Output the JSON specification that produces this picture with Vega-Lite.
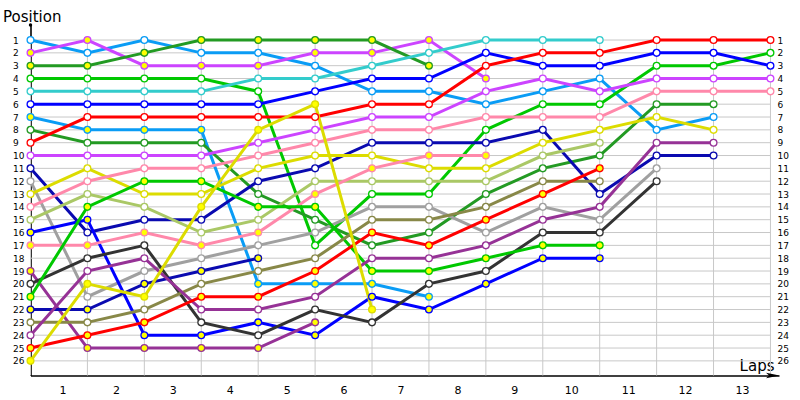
{
  "$schema": "https://vega.github.io/schema/vega-lite/v6.json",
  "width": 748.5,
  "height": 350.5,
  "autosize": "none",
  "padding": {"left": 30.5, "top": 25, "right": 21, "bottom": 24.5},
  "background": "white",
  "config": {
    "view": {"stroke": null},
    "font": "DejaVu Sans",
    "axis": {"labelFont": "DejaVu Sans", "titleFont": "DejaVu Sans", "labelColor": "black", "titleColor": "black", "titleFontWeight": "normal"}
  },
  "datasets": {
    "drivers": [
      {"driver": "s1", "team": "lightblue", "car": "first"},
      {"driver": "s2", "team": "violet", "car": "second"},
      {"driver": "s3", "team": "darkgreen", "car": "second"},
      {"driver": "s4", "team": "green", "car": "first"},
      {"driver": "s5", "team": "cyan", "car": "first"},
      {"driver": "s6", "team": "blue", "car": "first"},
      {"driver": "s7", "team": "lightblue", "car": "second"},
      {"driver": "s8", "team": "darkgreen", "car": "first"},
      {"driver": "s9", "team": "red", "car": "first"},
      {"driver": "s10", "team": "violet", "car": "first"},
      {"driver": "s11", "team": "navy", "car": "first"},
      {"driver": "s12", "team": "grey", "car": "first"},
      {"driver": "s13", "team": "yellow", "car": "first"},
      {"driver": "s14", "team": "pink", "car": "first"},
      {"driver": "s15", "team": "lightgreen", "car": "first"},
      {"driver": "s16", "team": "blue", "car": "second"},
      {"driver": "s17", "team": "pink", "car": "second"},
      {"driver": "s19", "team": "purple", "car": "second"},
      {"driver": "s20", "team": "black", "car": "first"},
      {"driver": "s21", "team": "green", "car": "second"},
      {"driver": "s22", "team": "navy", "car": "second"},
      {"driver": "s23", "team": "olive", "car": "first"},
      {"driver": "s24", "team": "purple", "car": "first"},
      {"driver": "s25", "team": "red", "car": "second"},
      {"driver": "s26", "team": "yellow", "car": "second"}
    ],
    "laps": [
      {"driver": "s1", "lap": 0, "pos": 1}, {"driver": "s1", "lap": 1, "pos": 2}, {"driver": "s1", "lap": 2, "pos": 1}, {"driver": "s1", "lap": 3, "pos": 2}, {"driver": "s1", "lap": 4, "pos": 2}, {"driver": "s1", "lap": 5, "pos": 3}, {"driver": "s1", "lap": 6, "pos": 5}, {"driver": "s1", "lap": 7, "pos": 5}, {"driver": "s1", "lap": 8, "pos": 6}, {"driver": "s1", "lap": 9, "pos": 5}, {"driver": "s1", "lap": 10, "pos": 4}, {"driver": "s1", "lap": 11, "pos": 8}, {"driver": "s1", "lap": 12, "pos": 7},
      {"driver": "s2", "lap": 0, "pos": 2}, {"driver": "s2", "lap": 1, "pos": 1}, {"driver": "s2", "lap": 2, "pos": 3}, {"driver": "s2", "lap": 3, "pos": 3}, {"driver": "s2", "lap": 4, "pos": 3}, {"driver": "s2", "lap": 5, "pos": 2}, {"driver": "s2", "lap": 6, "pos": 2}, {"driver": "s2", "lap": 7, "pos": 1}, {"driver": "s2", "lap": 8, "pos": 4},
      {"driver": "s3", "lap": 0, "pos": 3}, {"driver": "s3", "lap": 1, "pos": 3}, {"driver": "s3", "lap": 2, "pos": 2}, {"driver": "s3", "lap": 3, "pos": 1}, {"driver": "s3", "lap": 4, "pos": 1}, {"driver": "s3", "lap": 5, "pos": 1}, {"driver": "s3", "lap": 6, "pos": 1}, {"driver": "s3", "lap": 7, "pos": 3},
      {"driver": "s4", "lap": 0, "pos": 4}, {"driver": "s4", "lap": 1, "pos": 4}, {"driver": "s4", "lap": 2, "pos": 4}, {"driver": "s4", "lap": 3, "pos": 4}, {"driver": "s4", "lap": 4, "pos": 5}, {"driver": "s4", "lap": 5, "pos": 17}, {"driver": "s4", "lap": 6, "pos": 13}, {"driver": "s4", "lap": 7, "pos": 13}, {"driver": "s4", "lap": 8, "pos": 8}, {"driver": "s4", "lap": 9, "pos": 6}, {"driver": "s4", "lap": 10, "pos": 6}, {"driver": "s4", "lap": 11, "pos": 3}, {"driver": "s4", "lap": 12, "pos": 3}, {"driver": "s4", "lap": 13, "pos": 2},
      {"driver": "s5", "lap": 0, "pos": 5}, {"driver": "s5", "lap": 1, "pos": 5}, {"driver": "s5", "lap": 2, "pos": 5}, {"driver": "s5", "lap": 3, "pos": 5}, {"driver": "s5", "lap": 4, "pos": 4}, {"driver": "s5", "lap": 5, "pos": 4}, {"driver": "s5", "lap": 6, "pos": 3}, {"driver": "s5", "lap": 7, "pos": 2}, {"driver": "s5", "lap": 8, "pos": 1}, {"driver": "s5", "lap": 9, "pos": 1}, {"driver": "s5", "lap": 10, "pos": 1},
      {"driver": "s6", "lap": 0, "pos": 6}, {"driver": "s6", "lap": 1, "pos": 6}, {"driver": "s6", "lap": 2, "pos": 6}, {"driver": "s6", "lap": 3, "pos": 6}, {"driver": "s6", "lap": 4, "pos": 6}, {"driver": "s6", "lap": 5, "pos": 5}, {"driver": "s6", "lap": 6, "pos": 4}, {"driver": "s6", "lap": 7, "pos": 4}, {"driver": "s6", "lap": 8, "pos": 2}, {"driver": "s6", "lap": 9, "pos": 3}, {"driver": "s6", "lap": 10, "pos": 3}, {"driver": "s6", "lap": 11, "pos": 2}, {"driver": "s6", "lap": 12, "pos": 2}, {"driver": "s6", "lap": 13, "pos": 3},
      {"driver": "s7", "lap": 0, "pos": 7}, {"driver": "s7", "lap": 1, "pos": 8}, {"driver": "s7", "lap": 2, "pos": 8}, {"driver": "s7", "lap": 3, "pos": 8}, {"driver": "s7", "lap": 4, "pos": 20}, {"driver": "s7", "lap": 5, "pos": 20}, {"driver": "s7", "lap": 6, "pos": 20}, {"driver": "s7", "lap": 7, "pos": 21},
      {"driver": "s8", "lap": 0, "pos": 8}, {"driver": "s8", "lap": 1, "pos": 9}, {"driver": "s8", "lap": 2, "pos": 9}, {"driver": "s8", "lap": 3, "pos": 9}, {"driver": "s8", "lap": 4, "pos": 13}, {"driver": "s8", "lap": 5, "pos": 15}, {"driver": "s8", "lap": 6, "pos": 17}, {"driver": "s8", "lap": 7, "pos": 16}, {"driver": "s8", "lap": 8, "pos": 13}, {"driver": "s8", "lap": 9, "pos": 11}, {"driver": "s8", "lap": 10, "pos": 10}, {"driver": "s8", "lap": 11, "pos": 6}, {"driver": "s8", "lap": 12, "pos": 6},
      {"driver": "s9", "lap": 0, "pos": 9}, {"driver": "s9", "lap": 1, "pos": 7}, {"driver": "s9", "lap": 2, "pos": 7}, {"driver": "s9", "lap": 3, "pos": 7}, {"driver": "s9", "lap": 4, "pos": 7}, {"driver": "s9", "lap": 5, "pos": 7}, {"driver": "s9", "lap": 6, "pos": 6}, {"driver": "s9", "lap": 7, "pos": 6}, {"driver": "s9", "lap": 8, "pos": 3}, {"driver": "s9", "lap": 9, "pos": 2}, {"driver": "s9", "lap": 10, "pos": 2}, {"driver": "s9", "lap": 11, "pos": 1}, {"driver": "s9", "lap": 12, "pos": 1}, {"driver": "s9", "lap": 13, "pos": 1},
      {"driver": "s10", "lap": 0, "pos": 10}, {"driver": "s10", "lap": 1, "pos": 10}, {"driver": "s10", "lap": 2, "pos": 10}, {"driver": "s10", "lap": 3, "pos": 10}, {"driver": "s10", "lap": 4, "pos": 9}, {"driver": "s10", "lap": 5, "pos": 8}, {"driver": "s10", "lap": 6, "pos": 7}, {"driver": "s10", "lap": 7, "pos": 7}, {"driver": "s10", "lap": 8, "pos": 5}, {"driver": "s10", "lap": 9, "pos": 4}, {"driver": "s10", "lap": 10, "pos": 5}, {"driver": "s10", "lap": 11, "pos": 4}, {"driver": "s10", "lap": 12, "pos": 4}, {"driver": "s10", "lap": 13, "pos": 4},
      {"driver": "s11", "lap": 0, "pos": 11}, {"driver": "s11", "lap": 1, "pos": 16}, {"driver": "s11", "lap": 2, "pos": 15}, {"driver": "s11", "lap": 3, "pos": 15}, {"driver": "s11", "lap": 4, "pos": 12}, {"driver": "s11", "lap": 5, "pos": 11}, {"driver": "s11", "lap": 6, "pos": 9}, {"driver": "s11", "lap": 7, "pos": 9}, {"driver": "s11", "lap": 8, "pos": 9}, {"driver": "s11", "lap": 9, "pos": 8}, {"driver": "s11", "lap": 10, "pos": 13}, {"driver": "s11", "lap": 11, "pos": 10}, {"driver": "s11", "lap": 12, "pos": 10},
      {"driver": "s12", "lap": 0, "pos": 12}, {"driver": "s12", "lap": 1, "pos": 21}, {"driver": "s12", "lap": 2, "pos": 19}, {"driver": "s12", "lap": 3, "pos": 18}, {"driver": "s12", "lap": 4, "pos": 17}, {"driver": "s12", "lap": 5, "pos": 16}, {"driver": "s12", "lap": 6, "pos": 14}, {"driver": "s12", "lap": 7, "pos": 14}, {"driver": "s12", "lap": 8, "pos": 16}, {"driver": "s12", "lap": 9, "pos": 14}, {"driver": "s12", "lap": 10, "pos": 15}, {"driver": "s12", "lap": 11, "pos": 11},
      {"driver": "s13", "lap": 0, "pos": 13}, {"driver": "s13", "lap": 1, "pos": 11}, {"driver": "s13", "lap": 2, "pos": 13}, {"driver": "s13", "lap": 3, "pos": 13}, {"driver": "s13", "lap": 4, "pos": 11}, {"driver": "s13", "lap": 5, "pos": 10}, {"driver": "s13", "lap": 6, "pos": 10}, {"driver": "s13", "lap": 7, "pos": 11}, {"driver": "s13", "lap": 8, "pos": 11}, {"driver": "s13", "lap": 9, "pos": 9}, {"driver": "s13", "lap": 10, "pos": 8}, {"driver": "s13", "lap": 11, "pos": 7}, {"driver": "s13", "lap": 12, "pos": 8},
      {"driver": "s14", "lap": 0, "pos": 14}, {"driver": "s14", "lap": 1, "pos": 12}, {"driver": "s14", "lap": 2, "pos": 11}, {"driver": "s14", "lap": 3, "pos": 11}, {"driver": "s14", "lap": 4, "pos": 10}, {"driver": "s14", "lap": 5, "pos": 9}, {"driver": "s14", "lap": 6, "pos": 8}, {"driver": "s14", "lap": 7, "pos": 8}, {"driver": "s14", "lap": 8, "pos": 7}, {"driver": "s14", "lap": 9, "pos": 7}, {"driver": "s14", "lap": 10, "pos": 7}, {"driver": "s14", "lap": 11, "pos": 5}, {"driver": "s14", "lap": 12, "pos": 5}, {"driver": "s14", "lap": 13, "pos": 5},
      {"driver": "s15", "lap": 0, "pos": 15}, {"driver": "s15", "lap": 1, "pos": 13}, {"driver": "s15", "lap": 2, "pos": 14}, {"driver": "s15", "lap": 3, "pos": 16}, {"driver": "s15", "lap": 4, "pos": 15}, {"driver": "s15", "lap": 5, "pos": 12}, {"driver": "s15", "lap": 6, "pos": 12}, {"driver": "s15", "lap": 7, "pos": 12}, {"driver": "s15", "lap": 8, "pos": 12}, {"driver": "s15", "lap": 9, "pos": 10}, {"driver": "s15", "lap": 10, "pos": 9},
      {"driver": "s16", "lap": 0, "pos": 16}, {"driver": "s16", "lap": 1, "pos": 15}, {"driver": "s16", "lap": 2, "pos": 24}, {"driver": "s16", "lap": 3, "pos": 24}, {"driver": "s16", "lap": 4, "pos": 23}, {"driver": "s16", "lap": 5, "pos": 24}, {"driver": "s16", "lap": 6, "pos": 21}, {"driver": "s16", "lap": 7, "pos": 22}, {"driver": "s16", "lap": 8, "pos": 20}, {"driver": "s16", "lap": 9, "pos": 18}, {"driver": "s16", "lap": 10, "pos": 18},
      {"driver": "s17", "lap": 0, "pos": 17}, {"driver": "s17", "lap": 1, "pos": 17}, {"driver": "s17", "lap": 2, "pos": 16}, {"driver": "s17", "lap": 3, "pos": 17}, {"driver": "s17", "lap": 4, "pos": 16}, {"driver": "s17", "lap": 5, "pos": 13}, {"driver": "s17", "lap": 6, "pos": 11}, {"driver": "s17", "lap": 7, "pos": 10}, {"driver": "s17", "lap": 8, "pos": 10},
      {"driver": "s19", "lap": 0, "pos": 19}, {"driver": "s19", "lap": 1, "pos": 25}, {"driver": "s19", "lap": 2, "pos": 25}, {"driver": "s19", "lap": 3, "pos": 25}, {"driver": "s19", "lap": 4, "pos": 25}, {"driver": "s19", "lap": 5, "pos": 23},
      {"driver": "s20", "lap": 0, "pos": 20}, {"driver": "s20", "lap": 1, "pos": 18}, {"driver": "s20", "lap": 2, "pos": 17}, {"driver": "s20", "lap": 3, "pos": 23}, {"driver": "s20", "lap": 4, "pos": 24}, {"driver": "s20", "lap": 5, "pos": 22}, {"driver": "s20", "lap": 6, "pos": 23}, {"driver": "s20", "lap": 7, "pos": 20}, {"driver": "s20", "lap": 8, "pos": 19}, {"driver": "s20", "lap": 9, "pos": 16}, {"driver": "s20", "lap": 10, "pos": 16}, {"driver": "s20", "lap": 11, "pos": 12},
      {"driver": "s21", "lap": 0, "pos": 21}, {"driver": "s21", "lap": 1, "pos": 14}, {"driver": "s21", "lap": 2, "pos": 12}, {"driver": "s21", "lap": 3, "pos": 12}, {"driver": "s21", "lap": 4, "pos": 14}, {"driver": "s21", "lap": 5, "pos": 14}, {"driver": "s21", "lap": 6, "pos": 19}, {"driver": "s21", "lap": 7, "pos": 19}, {"driver": "s21", "lap": 8, "pos": 18}, {"driver": "s21", "lap": 9, "pos": 17}, {"driver": "s21", "lap": 10, "pos": 17},
      {"driver": "s22", "lap": 0, "pos": 22}, {"driver": "s22", "lap": 1, "pos": 22}, {"driver": "s22", "lap": 2, "pos": 20}, {"driver": "s22", "lap": 3, "pos": 19}, {"driver": "s22", "lap": 4, "pos": 18},
      {"driver": "s23", "lap": 0, "pos": 23}, {"driver": "s23", "lap": 1, "pos": 23}, {"driver": "s23", "lap": 2, "pos": 22}, {"driver": "s23", "lap": 3, "pos": 20}, {"driver": "s23", "lap": 4, "pos": 19}, {"driver": "s23", "lap": 5, "pos": 18}, {"driver": "s23", "lap": 6, "pos": 15}, {"driver": "s23", "lap": 7, "pos": 15}, {"driver": "s23", "lap": 8, "pos": 14}, {"driver": "s23", "lap": 9, "pos": 12}, {"driver": "s23", "lap": 10, "pos": 12},
      {"driver": "s24", "lap": 0, "pos": 24}, {"driver": "s24", "lap": 1, "pos": 19}, {"driver": "s24", "lap": 2, "pos": 18}, {"driver": "s24", "lap": 3, "pos": 22}, {"driver": "s24", "lap": 4, "pos": 22}, {"driver": "s24", "lap": 5, "pos": 21}, {"driver": "s24", "lap": 6, "pos": 18}, {"driver": "s24", "lap": 7, "pos": 18}, {"driver": "s24", "lap": 8, "pos": 17}, {"driver": "s24", "lap": 9, "pos": 15}, {"driver": "s24", "lap": 10, "pos": 14}, {"driver": "s24", "lap": 11, "pos": 9}, {"driver": "s24", "lap": 12, "pos": 9},
      {"driver": "s25", "lap": 0, "pos": 25}, {"driver": "s25", "lap": 1, "pos": 24}, {"driver": "s25", "lap": 2, "pos": 23}, {"driver": "s25", "lap": 3, "pos": 21}, {"driver": "s25", "lap": 4, "pos": 21}, {"driver": "s25", "lap": 5, "pos": 19}, {"driver": "s25", "lap": 6, "pos": 16}, {"driver": "s25", "lap": 7, "pos": 17}, {"driver": "s25", "lap": 8, "pos": 15}, {"driver": "s25", "lap": 9, "pos": 13}, {"driver": "s25", "lap": 10, "pos": 11},
      {"driver": "s26", "lap": 0, "pos": 26}, {"driver": "s26", "lap": 1, "pos": 20}, {"driver": "s26", "lap": 2, "pos": 21}, {"driver": "s26", "lap": 3, "pos": 14}, {"driver": "s26", "lap": 4, "pos": 8}, {"driver": "s26", "lap": 5, "pos": 6}, {"driver": "s26", "lap": 6, "pos": 22}
    ]
  },
  "data": {"name": "laps"},
  "resolve": {"axis": {"x": "independent", "y": "independent"}},
  "layer": [
    {
      "transform": [{"aggregate": [{"op": "count", "as": "n"}], "groupby": ["lap"]}],
      "mark": {"type": "rule", "color": "#c8c8c8", "strokeWidth": 1},
      "encoding": {
        "x": {"field": "lap", "type": "quantitative",
          "scale": {"domain": [0, 13.15], "nice": false, "zero": false},
          "axis": {"values": [0,1,2,3,4,5,6,7,8,9,10,11,12], "labelExpr": "datum.value + 1", "labelOffset": 28.46,
            "ticks": false, "tickSize": 0, "grid": false, "labelFontSize": 11, "labelPadding": 9, "labelBaseline": "top",
            "domainColor": "black", "domainWidth": 1.6,
            "title": "Laps", "titleFontSize": 15, "titleAlign": "right", "titleBaseline": "alphabetic", "titleAnchor": null,
            "titleX": 743.5, "titleY": -5}},
        "y": {"datum": 1, "type": "quantitative", "scale": {"domain": [-0.17, 27.14], "reverse": true, "nice": false, "zero": false}, "axis": null},
        "y2": {"datum": 27.14}
      }
    },
    {
      "transform": [{"aggregate": [{"op": "count", "as": "n"}], "groupby": ["pos"]}],
      "mark": {"type": "rule", "color": "#c8c8c8", "strokeWidth": 1},
      "encoding": {
        "y": {"field": "pos", "type": "quantitative",
          "scale": {"domain": [-0.17, 27.14], "reverse": true, "nice": false, "zero": false},
          "axis": {"orient": "left", "values": [1,2,3,4,5,6,7,8,9,10,11,12,13,14,15,16,17,18,19,20,21,22,23,24,25,26],
            "ticks": false, "tickSize": 0, "grid": false, "labelAlign": "left", "labelPadding": 18, "labelFontSize": 9,
            "domainColor": "black", "domainWidth": 1.6,
            "title": "Position", "titleFontSize": 15, "titleAngle": 0, "titleAlign": "left", "titleBaseline": "alphabetic", "titleAnchor": null,
            "titleX": -28, "titleY": -4}},
        "x": {"datum": 0, "type": "quantitative", "scale": {"domain": [0, 13.15], "nice": false, "zero": false}, "axis": null},
        "x2": {"datum": 13}
      }
    },
    {
      "transform": [{"lookup": "driver", "from": {"data": {"name": "drivers"}, "key": "driver", "fields": ["team", "car"]}}],
      "mark": {"type": "line", "strokeWidth": 3},
      "encoding": {
        "x": {"field": "lap", "type": "quantitative", "scale": {"domain": [0, 13.15], "nice": false, "zero": false}, "axis": null},
        "y": {"field": "pos", "type": "quantitative",
          "scale": {"domain": [-0.17, 27.14], "reverse": true, "nice": false, "zero": false},
          "axis": {"orient": "right", "values": [1,2,3,4,5,6,7,8,9,10,11,12,13,14,15,16,17,18,19,20,21,22,23,24,25,26],
            "ticks": false, "tickSize": 0, "grid": false, "domain": false, "labelAlign": "left", "labelPadding": -2, "labelFontSize": 9, "title": null}},
        "detail": {"field": "driver"},
        "order": {"field": "lap"},
        "color": {"field": "team", "type": "nominal", "legend": null,
          "scale": {"domain": ["lightblue","violet","darkgreen","green","cyan","blue","red","navy","grey","yellow","pink","lightgreen","purple","black","olive"],
            "range": ["#0a9cf5","#cc44ff","#239a23","#00c800","#33cccc","#0000ff","#ff0000","#0a0ab0","#a0a0a0","#dcdc00","#ff88aa","#aac866","#963296","#333333","#888848"]}}
      }
    },
    {
      "transform": [{"lookup": "driver", "from": {"data": {"name": "drivers"}, "key": "driver", "fields": ["team", "car"]}}],
      "mark": {"type": "point", "shape": "circle", "size": 46, "strokeWidth": 1.3, "opacity": 1, "filled": false},
      "encoding": {
        "x": {"field": "lap", "type": "quantitative", "scale": {"domain": [0, 13.15], "nice": false, "zero": false}, "axis": null},
        "y": {"field": "pos", "type": "quantitative", "scale": {"domain": [-0.17, 27.14], "reverse": true, "nice": false, "zero": false}, "axis": null},
        "stroke": {"field": "team", "type": "nominal", "legend": null,
          "scale": {"domain": ["lightblue","violet","darkgreen","green","cyan","blue","red","navy","grey","yellow","pink","lightgreen","purple","black","olive"],
            "range": ["#0a9cf5","#cc44ff","#239a23","#00c800","#33cccc","#0000ff","#ff0000","#0a0ab0","#a0a0a0","#dcdc00","#ff88aa","#aac866","#963296","#333333","#888848"]}},
        "fill": {"field": "car", "type": "nominal", "legend": null, "scale": {"domain": ["first", "second"], "range": ["#ffffff", "#ffff00"]}}
      }
    },
    {
      "data": {"values": [{}]},
      "mark": {"type": "point", "shape": "circle", "size": 12, "filled": true, "color": "black", "opacity": 1},
      "encoding": {
        "x": {"datum": 0, "type": "quantitative", "scale": {"domain": [0, 13.15], "nice": false, "zero": false}, "axis": null},
        "y": {"datum": -0.17, "type": "quantitative", "scale": {"domain": [-0.17, 27.14], "reverse": true, "nice": false, "zero": false}, "axis": null}
      }
    },
    {
      "data": {"values": [{}]},
      "mark": {"type": "point", "shape": "M1,0L-1,-0.4L-0.55,0L-1,0.4Z", "size": 180, "filled": true, "color": "black", "opacity": 1},
      "encoding": {
        "x": {"datum": 13.04, "type": "quantitative", "scale": {"domain": [0, 13.15], "nice": false, "zero": false}, "axis": null},
        "y": {"datum": 27.14, "type": "quantitative", "scale": {"domain": [-0.17, 27.14], "reverse": true, "nice": false, "zero": false}, "axis": null}
      }
    }
  ]
}
